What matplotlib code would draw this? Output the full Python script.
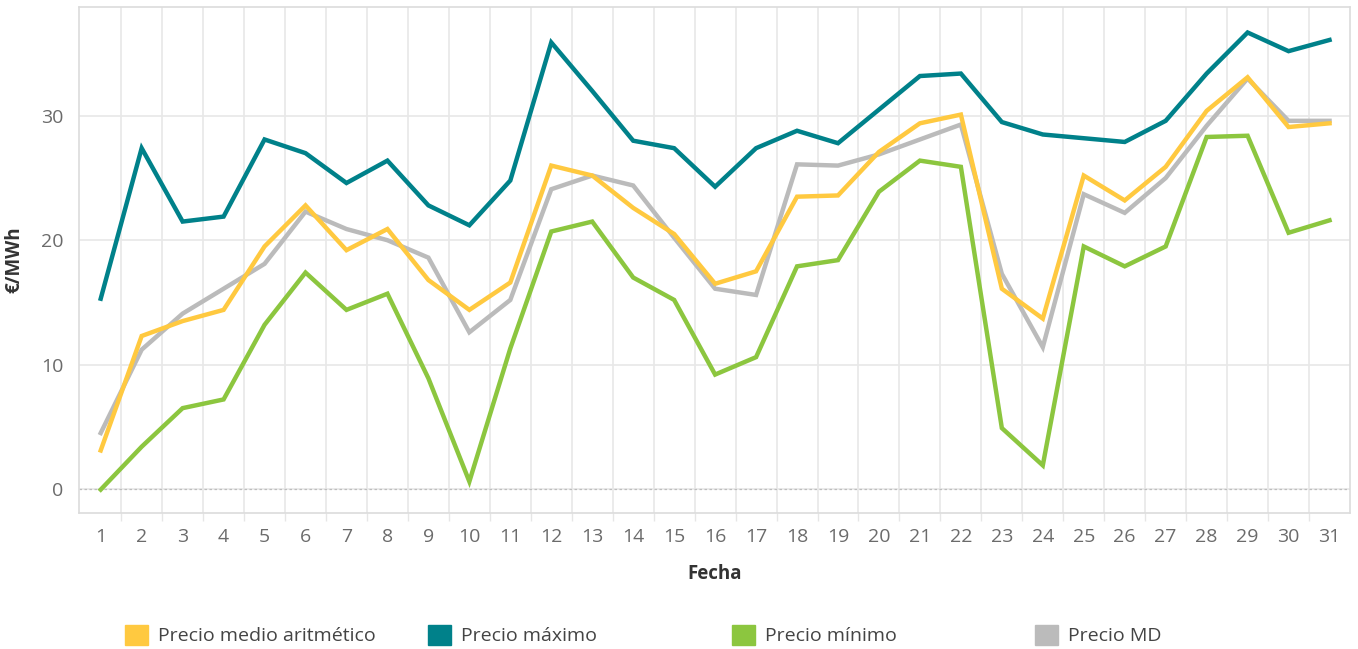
import numpy as np
import matplotlib.pyplot as plt
from matplotlib.patches import Patch

plt.rcParams['font.family'] = ['Open Sans', 'DejaVu Sans']

dias = list(range(1, 32))

precio_medio = [3.1, 12.3, 13.5, 14.4, 19.5, 22.8, 19.2, 20.9, 16.8, 14.4,
                16.6, 26.0, 25.2, 22.6, 20.5, 16.5, 17.5, 23.5, 23.6, 27.1,
                29.4, 30.1, 16.1, 13.7, 25.2, 23.2, 25.9, 30.4, 33.1, 29.1, 29.4]
precio_max = [15.3, 27.4, 21.5, 21.9, 28.1, 27.0, 24.6, 26.4, 22.8, 21.2,
              24.8, 35.9, 32.0, 28.0, 27.4, 24.3, 27.4, 28.8, 27.8, 30.5,
              33.2, 33.4, 29.5, 28.5, 28.2, 27.9, 29.6, 33.4, 36.7, 35.2, 36.1]
precio_min = [-0.05, 3.4, 6.5, 7.2, 13.2, 17.4, 14.4, 15.7, 8.9, 0.6,
              11.3, 20.7, 21.5, 17.0, 15.2, 9.2, 10.6, 17.9, 18.4, 23.9,
              26.4, 25.9, 4.9, 1.9, 19.5, 17.9, 19.5, 28.3, 28.4, 20.6, 21.6]
precio_md = [4.5, 11.2, 14.1, 16.1, 18.1, 22.3, 20.9, 20.0, 18.6, 12.6,
             15.2, 24.1, 25.2, 24.4, 20.2, 16.1, 15.6, 26.1, 26.0, 26.9,
             28.1, 29.3, 17.3, 11.4, 23.7, 22.2, 25.0, 29.2, 33.0, 29.6, 29.6]

series = ["Precio medio aritmético", "Precio máximo", "Precio mínimo", "Precio MD"]
colores = ["#FFC940", "#00818A", "#8CC63F", "#BBBBBB"]

fig = plt.figure(figsize=(13.58, 6.49), dpi=100)
ax = fig.add_axes([79 / 1358, 136 / 649, (1350 - 79) / 1358, (642 - 136) / 649])

# orden de dibujo: MD al fondo, medio encima
ax.plot(dias, precio_md, color=colores[3], lw=3.2, solid_joinstyle='miter', zorder=3)
ax.plot(dias, precio_min, color=colores[2], lw=3.2, solid_joinstyle='miter', zorder=4)
ax.plot(dias, precio_max, color=colores[1], lw=3.2, solid_joinstyle='miter', zorder=5)
ax.plot(dias, precio_medio, color=colores[0], lw=3.2, solid_joinstyle='miter', zorder=6)

ax.set_xlim(0.47, 31.5)
ax.set_ylim(-1.93, 38.75)

ax.set_xticks(dias)
ax.set_xticklabels([str(d) for d in dias])
ax.set_xticks(np.arange(1.5, 31.5, 1), minor=True)
ax.set_yticks([0, 10, 20, 30])

ax.tick_params(axis='x', which='major', length=0, pad=11, labelsize=14, labelcolor='#6b6b6b')
ax.tick_params(axis='x', which='minor', length=6, color='#e6e6e6', width=1)
ax.tick_params(axis='y', length=0, pad=11, labelsize=14, labelcolor='#6b6b6b')

ax.grid(True, axis='x', which='minor', color='#e8e8e8', lw=1.2)
ax.grid(False, axis='x', which='major')
ax.grid(True, axis='y', which='major', color='#e8e8e8', lw=1.2)
ax.axhline(0, color='#bdbdbd', lw=0.9, ls=(0, (2, 2)), zorder=2)
ax.set_axisbelow(True)

for s in ax.spines.values():
    s.set_color('#dcdcdc')
    s.set_linewidth(1.2)

ax.set_xlabel("Fecha", fontsize=13.5, fontweight='bold', color='#333333', labelpad=13)
ax.set_ylabel("€/MWh", fontsize=13.5, fontweight='bold', color='#333333', labelpad=12)

# leyenda: cada entrada en su propia posicion
pos_x = [125, 428, 732, 1035]
for nombre, col, px in zip(series, colores, pos_x):
    fig.legend(handles=[Patch(color=col)], labels=[nombre],
               loc='center left', bbox_to_anchor=(px / 1358, 1 - 635 / 649),
               frameon=False, fontsize=14, labelcolor='#444444',
               handlelength=1.2, handleheight=1.2, handletextpad=0.5,
               borderpad=0, borderaxespad=0)

fig.savefig("out.png", dpi=100)
